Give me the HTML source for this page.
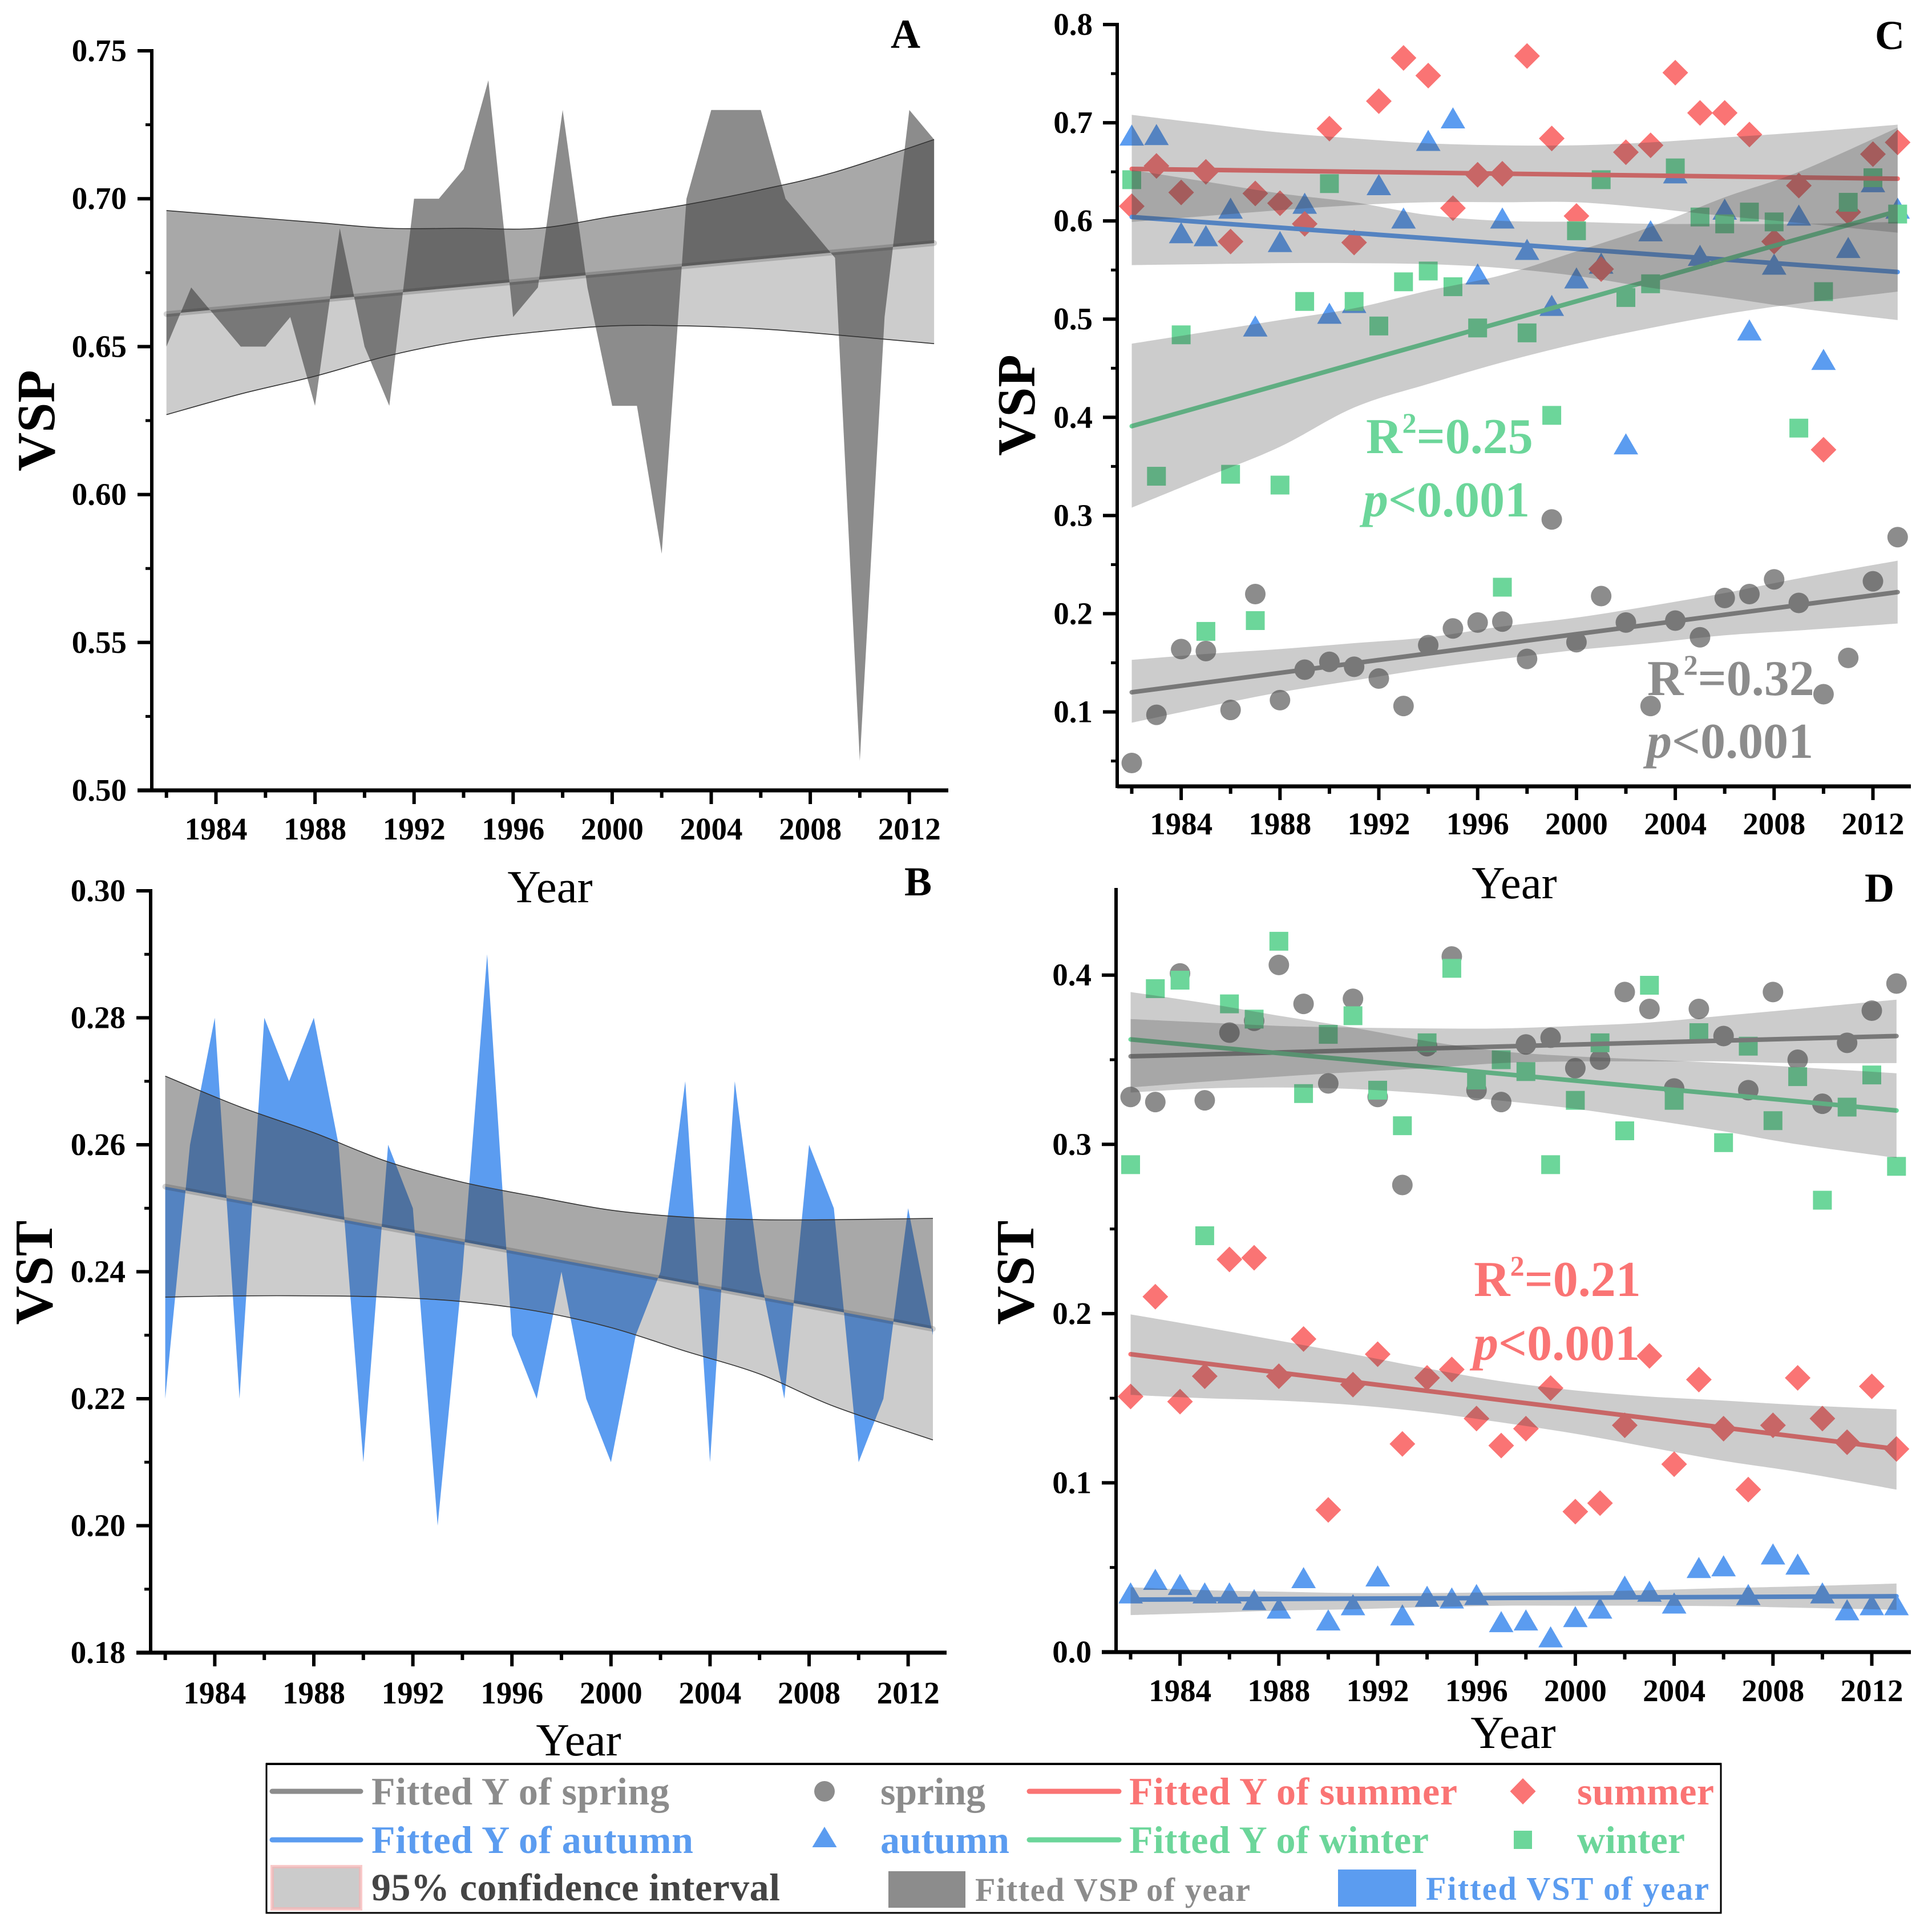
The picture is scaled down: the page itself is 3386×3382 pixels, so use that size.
<!DOCTYPE html>
<html lang="en">
<head>
<meta charset="utf-8">
<title>VSP and VST trends 1982-2013</title>
<style>
html,body{margin:0;padding:0;background:#fff;}
svg{display:block;}
text{font-family:"Liberation Serif",serif;}
</style>
</head>
<body>
<svg id="figure" xmlns="http://www.w3.org/2000/svg" width="3386" height="3382" viewBox="0 0 3386 3382">
<rect x="0" y="0" width="3386" height="3382" fill="#fff"/>
<g id="chart-layer"></g>

<g font-weight="bold">
<text x="2394" y="794" font-size="88" fill="#6cd69a">R<tspan font-size="50" dy="-36">2</tspan><tspan dy="36">=0.25</tspan></text>
<text x="2389" y="905" font-size="88" fill="#6cd69a"><tspan font-style="italic">p</tspan>&lt;0.001</text>
<text x="2887" y="1218" font-size="88" fill="#8c8c8c">R<tspan font-size="50" dy="-36">2</tspan><tspan dy="36">=0.32</tspan></text>
<text x="2886" y="1328" font-size="88" fill="#8c8c8c"><tspan font-style="italic">p</tspan>&lt;0.001</text>
<text x="2583" y="2271" font-size="88" fill="#fa7474">R<tspan font-size="50" dy="-36">2</tspan><tspan dy="36">=0.21</tspan></text>
<text x="2582" y="2383" font-size="88" fill="#fa7474"><tspan font-style="italic">p</tspan>&lt;0.001</text>
</g>

<g id="legend" font-weight="bold">
<rect x="467" y="3091" width="2549" height="261" fill="#fff" stroke="#000" stroke-width="3"/>
<line x1="466" y1="3091" x2="3017" y2="3091" stroke="#000" stroke-width="4"/>

<line x1="477" y1="3139" x2="632" y2="3139" stroke="#8c8c8c" stroke-width="9" stroke-linecap="round"/>
<text x="651" y="3162" font-size="68" fill="#8c8c8c" textLength="522">Fitted Y of spring</text>
<circle cx="1445" cy="3139" r="18" fill="#8c8c8c"/>
<text x="1543" y="3162" font-size="68" fill="#8c8c8c" textLength="184">spring</text>
<line x1="1804" y1="3139" x2="1961" y2="3139" stroke="#fa7474" stroke-width="9" stroke-linecap="round"/>
<text x="1979" y="3162" font-size="68" fill="#fa7474" textLength="575">Fitted Y of summer</text>
<polygon points="2669,3116 2691.5,3139 2669,3162 2646.5,3139" fill="#fa7474"/>
<text x="2764" y="3162" font-size="68" fill="#fa7474" textLength="240">summer</text>

<line x1="477" y1="3224" x2="632" y2="3224" stroke="#5b9cf0" stroke-width="9" stroke-linecap="round"/>
<text x="651" y="3247" font-size="68" fill="#5b9cf0" textLength="564">Fitted Y of autumn</text>
<polygon points="1445,3201 1466.5,3237 1423.5,3237" fill="#5b9cf0"/>
<text x="1543" y="3247" font-size="68" fill="#5b9cf0" textLength="226">autumn</text>
<line x1="1804" y1="3224" x2="1961" y2="3224" stroke="#6cd69a" stroke-width="9" stroke-linecap="round"/>
<text x="1979" y="3247" font-size="68" fill="#6cd69a" textLength="525">Fitted Y of winter</text>
<rect x="2653" y="3208" width="32" height="32" fill="#6cd69a"/>
<text x="2764" y="3247" font-size="68" fill="#6cd69a" textLength="189">winter</text>

<rect x="477" y="3271" width="155" height="74" fill="#cbcbcb" stroke="#f6b4b4" stroke-opacity="0.7" stroke-width="6"/>
<text x="651" y="3330" font-size="68" fill="#444" textLength="716">95% confidence interval</text>
<rect x="1557" y="3279" width="135" height="64" fill="#8c8c8c"/>
<text x="1709" y="3331" font-size="58" fill="#8c8c8c" textLength="482">Fitted VSP of year</text>
<rect x="2345" y="3276" width="137" height="65" fill="#5b9cf0"/>
<text x="2499" y="3329" font-size="58" fill="#5b9cf0" textLength="496">Fitted VST of year</text>
</g>
</svg>

<script>
// ---------- shared categories ----------
const years = [1982,1983,1984,1985,1986,1987,1988,1989,1990,1991,1992,1993,1994,1995,1996,1997,1998,1999,2000,2001,2002,2003,2004,2005,2006,2007,2008,2009,2010,2011,2012,2013];
const yearTicks = [1984,1988,1992,1996,2000,2004,2008,2012];
const minorYearTicks = [1982,1986,1990,1994,1998,2002,2006,2010];
const fitYears = [1982,2013];
const bandYears = [1982,1985,1988,1991,1994,1997,2000,2003,2006,2009,2013];

// ---------- panel A ----------
const aTicks = ['0.50','0.55','0.60','0.65','0.70','0.75'];
const aMinor = [0.525,0.575,0.625,0.675,0.725];
const aSeries = [0.65,0.67,0.66,0.65,0.65,0.66,0.63,0.69,0.65,0.63,0.70,0.70,0.71,0.74,0.66,0.67,0.73,0.67,0.63,0.63,0.58,0.70,0.73,0.73,0.73,0.70,0.69,0.68,0.51,0.66,0.73,0.72];
const aFit = [0.661,0.685];
const aUpper = [0.696,0.694,0.692,0.690,0.690,0.690,0.694,0.698,0.703,0.709,0.720];
const aLower = [0.627,0.634,0.640,0.647,0.652,0.655,0.657,0.657,0.656,0.654,0.651];

// ---------- panel B ----------
const bTicks = ['0.18','0.20','0.22','0.24','0.26','0.28','0.30'];
const bMinor = [0.19,0.21,0.23,0.25,0.27,0.29];
const bSeries = [0.22,0.26,0.28,0.22,0.28,0.27,0.28,0.26,0.21,0.26,0.25,0.20,0.24,0.29,0.23,0.22,0.24,0.22,0.21,0.23,0.24,0.27,0.21,0.27,0.24,0.22,0.26,0.25,0.21,0.22,0.25,0.23];
const bFit = [0.2534,0.231];
const bUpper = [0.2708,0.266,0.2619,0.2573,0.2541,0.2518,0.2497,0.2486,0.2482,0.2482,0.2484];
const bLower = [0.236,0.2362,0.2362,0.236,0.2353,0.2338,0.2312,0.2275,0.2239,0.2188,0.2135];

// ---------- panel C ----------
const cTicks = ['0.1','0.2','0.3','0.4','0.5','0.6','0.7','0.8'];
const cMinor = [0.05,0.15,0.25,0.35,0.45,0.55,0.65,0.75];
const cSpring = [0.048,0.097,0.164,0.162,0.102,0.22,0.112,0.143,0.151,0.146,0.134,0.106,0.168,0.185,0.191,0.192,0.154,0.296,0.171,0.218,0.191,0.106,0.193,0.176,0.216,0.22,0.235,0.211,0.118,0.155,0.233,0.278];
const cSummer = [0.615,0.656,0.629,0.65,0.579,0.628,0.618,0.597,0.694,0.578,0.722,0.766,0.748,0.613,0.647,0.648,0.768,0.684,0.605,0.551,0.67,0.677,0.751,0.71,0.71,0.688,0.579,0.636,0.367,0.609,0.668,0.68];
const cAutumn = [0.6875,0.688,0.588,0.585,0.613,0.493,0.579,0.618,0.506,0.517,0.637,0.603,0.682,0.705,0.546,0.603,0.571,0.514,0.542,0.557,0.373,0.59,0.649,0.565,0.612,0.489,0.556,0.606,0.459,0.573,0.64,0.613];
const cWinter = [0.642,0.34,0.484,0.182,0.342,0.193,0.331,0.518,0.638,0.518,0.493,0.538,0.549,0.533,0.491,0.227,0.486,0.402,0.59,0.642,0.522,0.536,0.654,0.604,0.597,0.609,0.599,0.389,0.528,0.619,0.644,0.607];
const cSpringFit = [0.12,0.222];
const cSummerFit = [0.653,0.643];
const cAutumnFit = [0.604,0.548];
const cWinterFit = [0.391,0.61];
const cSpringUpper = [0.153,0.159,0.164,0.17,0.176,0.187,0.196,0.208,0.221,0.236,0.254];
const cSpringLower = [0.089,0.105,0.12,0.132,0.144,0.154,0.163,0.17,0.178,0.183,0.19];
const cSummerUpper = [0.708,0.699,0.69,0.684,0.679,0.677,0.677,0.68,0.685,0.69,0.698];
const cSummerLower = [0.599,0.605,0.611,0.616,0.619,0.619,0.619,0.613,0.605,0.598,0.588];
const cAutumnUpper = [0.652,0.64,0.628,0.619,0.606,0.6,0.599,0.597,0.597,0.597,0.599];
const cAutumnLower = [0.555,0.556,0.557,0.557,0.556,0.552,0.544,0.532,0.522,0.511,0.499];
const cWinterUpper = [0.475,0.487,0.499,0.511,0.529,0.545,0.569,0.594,0.624,0.65,0.695];
const cWinterLower = [0.308,0.339,0.37,0.41,0.434,0.456,0.475,0.491,0.505,0.516,0.528];

// ---------- panel D ----------
const dTicks = ['0.0','0.1','0.2','0.3','0.4'];
const dMinor = [0.05,0.15,0.25,0.35];
const dSpring = [0.328,0.325,0.401,0.326,0.366,0.373,0.406,0.383,0.336,0.386,0.328,0.276,0.358,0.411,0.332,0.325,0.359,0.363,0.345,0.35,0.39,0.38,0.333,0.38,0.364,0.332,0.39,0.35,0.324,0.36,0.379,0.395];
const dSummer = [0.151,0.21,0.148,0.163,0.232,0.233,0.163,0.185,0.084,0.158,0.176,0.123,0.162,0.167,0.138,0.122,0.132,0.156,0.083,0.088,0.134,0.175,0.111,0.161,0.132,0.096,0.134,0.162,0.138,0.124,0.157,0.12];
const dAutumn = [0.035,0.043,0.04,0.035,0.035,0.031,0.026,0.044,0.019,0.028,0.045,0.022,0.033,0.032,0.034,0.018,0.019,0.009,0.021,0.026,0.039,0.036,0.029,0.05,0.051,0.034,0.058,0.052,0.035,0.025,0.028,0.028];
const dWinter = [0.288,0.392,0.397,0.246,0.383,0.374,0.42,0.33,0.365,0.376,0.332,0.311,0.36,0.404,0.338,0.35,0.343,0.288,0.326,0.36,0.308,0.394,0.326,0.366,0.301,0.358,0.314,0.34,0.267,0.322,0.341,0.287];
const dSpringFit = [0.352,0.364];
const dSummerFit = [0.176,0.12];
const dAutumnFit = [0.031,0.033];
const dWinterFit = [0.362,0.32];
const dSpringUpper = [0.374,0.372,0.37,0.369,0.3685,0.3685,0.37,0.372,0.376,0.38,0.3855];
const dSpringLower = [0.3336,0.337,0.34,0.3427,0.345,0.348,0.349,0.349,0.349,0.348,0.348];
const dSummerUpper = [0.1995,0.192,0.184,0.176,0.1676,0.16,0.1546,0.151,0.1486,0.146,0.1434];
const dSummerLower = [0.152,0.15,0.1486,0.146,0.1417,0.1357,0.129,0.121,0.113,0.1064,0.096];
const dAutumnUpper = [0.0383,0.0366,0.0357,0.0349,0.0349,0.0353,0.0357,0.0366,0.0378,0.0388,0.0405];
const dAutumnLower = [0.0219,0.0231,0.0245,0.0253,0.0266,0.0274,0.0274,0.0274,0.0271,0.0262,0.025];
const dWinterUpper = [0.39,0.3835,0.376,0.369,0.361,0.355,0.352,0.35,0.348,0.3456,0.342];
const dWinterLower = [0.3306,0.333,0.3336,0.3327,0.33,0.3258,0.321,0.3146,0.3077,0.3,0.292];

const SVGNS = 'http://www.w3.org/2000/svg';
const layer = document.getElementById('chart-layer');
const GRAY = '#8c8c8c', RED = '#fa7474', BLUE = '#5b9cf0', GREEN = '#6cd69a';

function mk(parent, tag, attrs, name, txt) {
  const e = document.createElementNS(SVGNS, tag);
  for (const k in attrs) e.setAttribute(k, attrs[k]);
  
  
  if (txt !== undefined) e.textContent = txt;
  parent.appendChild(e);
  return e;
}
function linScale(v0, p0, v1, p1) { return v => p0 + (v - v0) * (p1 - p0) / (v1 - v0); }
function ptsOf(xv, yv, X, Y) { return xv.map((x, i) => X(x).toFixed(1) + ',' + Y(yv[i]).toFixed(1)); }
function xyOf(xv, yv, X, Y) { return xv.map((x, i) => [X(x), Y(yv[i])]); }
function fitAt(fit, yr) { return fit[0] + (fit[1] - fit[0]) * (yr - fitYears[0]) / (fitYears[1] - fitYears[0]); }
// Smooth curve through the knot values (Catmull-Rom to Bezier).
function curve(pts, cmd) {
  let s = cmd + pts[0][0].toFixed(1) + ' ' + pts[0][1].toFixed(1);
  for (let i = 0; i < pts.length - 1; i++) {
    const p0 = pts[i - 1] || pts[i], p1 = pts[i], p2 = pts[i + 1], p3 = pts[i + 2] || p2;
    const c1x = p1[0] + (p2[0] - p0[0]) / 6, c1y = p1[1] + (p2[1] - p0[1]) / 6;
    const c2x = p2[0] - (p3[0] - p1[0]) / 6, c2y = p2[1] - (p3[1] - p1[1]) / 6;
    s += ' C' + c1x.toFixed(1) + ' ' + c1y.toFixed(1) + ' ' + c2x.toFixed(1) + ' ' + c2y.toFixed(1) + ' ' + p2[0].toFixed(1) + ' ' + p2[1].toFixed(1);
  }
  return s;
}

function drawAxes(g, o) {
  const X = o.X, Y = o.Y;
  mk(g, 'line', {x1:o.ax, y1:o.top-3, x2:o.ax, y2:o.bottom+3, stroke:'#000','stroke-width':6}, 'y-axis-line');
  mk(g, 'line', {x1:o.ax-(o.leftExt||0), y1:o.bottom, x2:o.right, y2:o.bottom, stroke:'#000','stroke-width':7}, 'x-axis-line');
  o.ticks.forEach(t => {
    const y = Y(parseFloat(t));
    mk(g, 'line', {x1:o.ax-25, y1:y, x2:o.ax, y2:y, stroke:'#000','stroke-width':6}, 'y-tick');
    mk(g, 'text', {x:o.labelRight, y:y+18, 'text-anchor':'end','font-size':55,'font-weight':'bold',fill:'#000'}, 'y-tick-label', t);
  });
  o.minor.forEach(v => {
    const y = Y(v);
    mk(g, 'line', {x1:o.ax-11, y1:y, x2:o.ax, y2:y, stroke:'#000','stroke-width':5}, 'y-minor-tick');
  });
  yearTicks.forEach(yr => {
    const x = X(yr);
    mk(g, 'line', {x1:x, y1:o.bottom, x2:x, y2:o.bottom+o.xMajor, stroke:'#000','stroke-width':6}, 'x-tick');
    mk(g, 'text', {x:x, y:o.xLabelY, 'text-anchor':'middle','font-size':55,'font-weight':'bold',fill:'#000'}, 'x-tick-label', String(yr));
  });
  minorYearTicks.forEach(yr => {
    const x = X(yr);
    mk(g, 'line', {x1:x, y1:o.bottom, x2:x, y2:o.bottom+13, stroke:'#000','stroke-width':6}, 'x-minor-tick');
  });
  mk(g, 'text', {x:o.xTitle[0], y:o.xTitle[1], 'text-anchor':'middle','font-size':81,fill:'#000'}, 'x-axis-title', 'Year');
  mk(g, 'text', {transform:'translate('+o.yTitle[0]+','+o.yTitle[1]+') rotate(-90)', 'text-anchor':'middle','font-size':94,'font-weight':'bold',fill:'#000'}, 'y-axis-title', o.yLabel);
  mk(g, 'text', {x:o.letter[0], y:o.letter[1], 'text-anchor':'middle','font-size':72,'font-weight':'bold',fill:'#000'}, 'panel-letter', o.letter[2]);
}
function drawBand(g, upper, lower, X, Y, name) {
  const top = xyOf(bandYears, upper, X, Y);
  const bot = xyOf(bandYears, lower, X, Y).reverse();
  mk(g, 'path', {d: curve(top, 'M') + ' ' + curve(bot, 'L') + ' Z', fill:'rgba(66,66,66,0.27)'}, name);
}
function drawFit(g, fit, X, Y, color, name, width) {
  mk(g, 'line', {x1:X(fitYears[0]), y1:Y(fit[0]), x2:X(fitYears[1]), y2:Y(fit[1]), stroke:color, 'stroke-width':width||8, 'stroke-linecap':'round'}, name);
}
function drawAreaPanel(o, series, fit, upper, lower, color) {
  const g = mk(layer, 'g', {}, o.name);
  const X = o.X, Y = o.Y;
  const top = ptsOf(years, series, X, Y);
  const base = ptsOf(fitYears, fit, X, Y).reverse();
  mk(g, 'polygon', {points: top.concat(base).join(' '), fill:color, 'fill-rule':'nonzero'}, 'area-series');
  drawBand(g, upper, lower, X, Y, 'confidence-band');
  const upPts = xyOf(bandYears, upper, X, Y);
  const lowPts = xyOf(bandYears, lower, X, Y);
  const fitEnd = X(fitYears[1]).toFixed(1) + ' ' + Y(fit[1]).toFixed(1);
  const fitStart = X(fitYears[0]).toFixed(1) + ' ' + Y(fit[0]).toFixed(1);
  mk(g, 'path', {d: curve(upPts, 'M') + ' L' + fitEnd + ' L' + fitStart + ' Z', fill:'rgba(60,60,60,0.25)'}, 'upper-band-overlay');
  mk(g, 'path', {d: curve(upPts, 'M'), fill:'none', stroke:'#333', 'stroke-width':1.6}, 'upper-band-edge');
  mk(g, 'path', {d: curve(lowPts, 'M'), fill:'none', stroke:'#333', 'stroke-width':1.6}, 'lower-band-edge');
  drawFit(g, fit, X, Y, 'rgba(40,40,40,0.2)', 'fitted-line', 10);
  drawAxes(g, o);
}
function markerCircle(g, x, y) { mk(g, 'circle', {cx:x, cy:y, r:18, fill:GRAY}, 'spring-point'); }
function markerDiamond(g, x, y) { mk(g, 'polygon', {points:[x,y-22.5,x+22.5,y,x,y+22.5,x-22.5,y].join(','), fill:RED}, 'summer-point'); }
function markerTriangle(g, x, y) { mk(g, 'polygon', {points:[x,y-18.5,x+21.5,y+18.5,x-21.5,y+18.5].join(','), fill:BLUE}, 'autumn-point'); }
function markerSquare(g, x, y) { mk(g, 'rect', {x:x-16.5, y:y-16.5, width:33, height:33, fill:GREEN}, 'winter-point'); }

function drawScatterPanel(o, d) {
  const g = mk(layer, 'g', {}, o.name);
  const X = o.X, Y = o.Y;
  years.forEach((yr, i) => markerCircle(g, X(yr), Y(d.spring[i])));
  years.forEach((yr, i) => markerTriangle(g, X(yr), Y(d.autumn[i])));
  years.forEach((yr, i) => markerDiamond(g, X(yr), Y(d.summer[i])));
  years.forEach((yr, i) => markerSquare(g, X(yr), Y(d.winter[i])));
  drawFit(g, d.springFit, X, Y, GRAY, 'spring-fit-line');
  drawFit(g, d.summerFit, X, Y, RED, 'summer-fit-line');
  drawFit(g, d.autumnFit, X, Y, BLUE, 'autumn-fit-line');
  drawFit(g, d.winterFit, X, Y, GREEN, 'winter-fit-line');
  drawBand(g, d.springUpper, d.springLower, X, Y, 'spring-confidence-band');
  drawBand(g, d.summerUpper, d.summerLower, X, Y, 'summer-confidence-band');
  drawBand(g, d.autumnUpper, d.autumnLower, X, Y, 'autumn-confidence-band');
  drawBand(g, d.winterUpper, d.winterLower, X, Y, 'winter-confidence-band');
  drawAxes(g, o);
}

drawAreaPanel({
  name:'panel-a', X:linScale(1982,291.7,2013,1637.1), Y:linScale(0.5,1385,0.75,89),
  ax:266, top:89, bottom:1385, right:1662, leftExt:25, ticks:aTicks, minor:aMinor, labelRight:222,
  xMajor:24, xLabelY:1471, xTitle:[964,1581], yTitle:[95,737], yLabel:'VSP', letter:[1587,84,'A']
}, aSeries, aFit, aUpper, aLower, GRAY);

drawAreaPanel({
  name:'panel-b', X:linScale(1982,289.6,2013,1635), Y:linScale(0.18,2896,0.30,1561),
  ax:264, top:1561, bottom:2896, right:1659, leftExt:25, ticks:bTicks, minor:bMinor, labelRight:220,
  xMajor:24, xLabelY:2985, xTitle:[1014,3076], yTitle:[91,2230], yLabel:'VST', letter:[1609,1569,'B']
}, bSeries, bFit, bUpper, bLower, BLUE);

drawScatterPanel({
  name:'panel-c', X:linScale(1982,1983.5,2013,3325.8), Y:linScale(0.1,1247.5,0.8,43),
  ax:1958, top:43, bottom:1378, right:3349, leftExt:0, ticks:cTicks, minor:cMinor, labelRight:1915,
  xMajor:24, xLabelY:1462, xTitle:[2654,1574], yTitle:[1813,710], yLabel:'VSP', letter:[3312,86,'C']
}, {spring:cSpring, summer:cSummer, autumn:cAutumn, winter:cWinter,
    springFit:cSpringFit, summerFit:cSummerFit, autumnFit:cAutumnFit, winterFit:cWinterFit,
    springUpper:cSpringUpper, springLower:cSpringLower, summerUpper:cSummerUpper, summerLower:cSummerLower,
    autumnUpper:cAutumnUpper, autumnLower:cAutumnLower, winterUpper:cWinterUpper, winterLower:cWinterLower});

drawScatterPanel({
  name:'panel-d', X:linScale(1982,1981.5,2013,3323.8), Y:linScale(0,2895,0.4,1708.7),
  ax:1956, top:1559, bottom:2895, right:3349, leftExt:25, ticks:dTicks, minor:dMinor, labelRight:1913,
  xMajor:24, xLabelY:2981, xTitle:[2652,3063], yTitle:[1811,2230], yLabel:'VST', letter:[3294,1580,'D']
}, {spring:dSpring, summer:dSummer, autumn:dAutumn, winter:dWinter,
    springFit:dSpringFit, summerFit:dSummerFit, autumnFit:dAutumnFit, winterFit:dWinterFit,
    springUpper:dSpringUpper, springLower:dSpringLower, summerUpper:dSummerUpper, summerLower:dSummerLower,
    autumnUpper:dAutumnUpper, autumnLower:dAutumnLower, winterUpper:dWinterUpper, winterLower:dWinterLower});
</script>
</body>
</html>
